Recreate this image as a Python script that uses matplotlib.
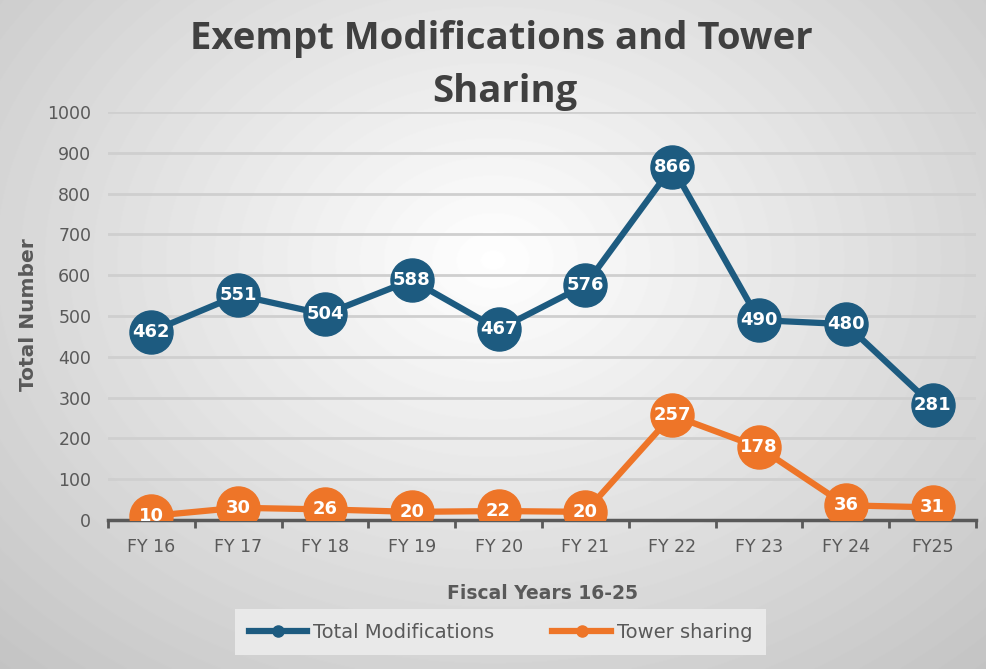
import matplotlib.pyplot as plt
import numpy as np

# data
years = ["FY 16", "FY 17", "FY 18", "FY 19", "FY 20", "FY 21", "FY 22", "FY 23", "FY 24", "FY25"]
total_mods = [462, 551, 504, 588, 467, 576, 866, 490, 480, 281]
tower_sharing = [10, 30, 26, 20, 22, 20, 257, 178, 36, 31]

blue = "#1d5b80"
orange = "#ee7528"
grey_txt = "#595959"

fig = plt.figure(figsize=(9.87, 6.69), dpi=100)

# radial grey background
bg = fig.add_axes([0, 0, 1, 1], zorder=-10)
yy, xx = np.mgrid[0:669, 0:987]
r = np.sqrt(((xx - 493) / 620.0) ** 2 + ((yy - 260) / 480.0) ** 2)
shade = np.clip(1.0 - 0.2 * r, 0, 1)
bg.imshow(shade, cmap="gray", vmin=0, vmax=1, aspect="auto", extent=[0, 1, 0, 1])
bg.axis("off")

ax = fig.add_axes([0.1094, 0.2227, 0.8795, 0.6099])
ax.patch.set_alpha(0)
x = np.arange(len(years))

ax.plot(x, total_mods, color=blue, lw=4.5, marker="o", markersize=31, zorder=3)
ax.plot(x, tower_sharing, color=orange, lw=4.5, marker="o", markersize=31, zorder=3)

for i in range(len(years)):
    ax.text(x[i], total_mods[i], str(total_mods[i]), color="white", fontsize=13,
            fontweight="bold", ha="center", va="center", zorder=4)
    ax.text(x[i], tower_sharing[i], str(tower_sharing[i]), color="white", fontsize=13,
            fontweight="bold", ha="center", va="center", zorder=4)

ax.set_xlim(-0.5, len(years) - 0.5)
ax.set_ylim(0, 1000)
ax.set_yticks(np.arange(0, 1001, 100))
ax.set_xticks(x)
ax.set_xticklabels(years)
ax.set_xticks(np.arange(-0.5, len(years), 1), minor=True)
ax.tick_params(axis="x", which="major", length=0, pad=13, labelsize=12.5, labelcolor=grey_txt)
ax.tick_params(axis="x", which="minor", length=6, width=2, color=grey_txt, direction="out")
ax.tick_params(axis="y", length=0, pad=12, labelsize=12.5, labelcolor=grey_txt)
ax.grid(axis="y", color="#cfcfcf", lw=2)
ax.set_axisbelow(True)
for s in ["top", "right", "left"]:
    ax.spines[s].set_visible(False)
ax.spines["bottom"].set_color(grey_txt)
ax.spines["bottom"].set_linewidth(2.5)
ax.spines["bottom"].set_zorder(2)

fig.text(0.508, 0.942, "Exempt Modifications and Tower", ha="center", va="center",
         fontsize=27.5, fontweight="bold", color="#404040", family="Open Sans")
fig.text(0.511, 0.863, "Sharing", ha="center", va="center",
         fontsize=27.5, fontweight="bold", color="#404040", family="Open Sans")
fig.text(0.029, 0.53, "Total Number", rotation=90, ha="center", va="center",
         fontsize=14.5, fontweight="bold", color=grey_txt)
fig.text(0.55, 0.113, "Fiscal Years 16-25", ha="center", va="center",
         fontsize=13.5, fontweight="bold", color=grey_txt)

leg = fig.legend(["Total Modifications", "Tower sharing"], loc="center",
                 bbox_to_anchor=(0.507, 0.055), ncol=2, fontsize=14,
                 handlelength=3.0, columnspacing=3.0, borderpad=0.7, handletextpad=0.3,
                 facecolor="#e9e9e9", edgecolor="none", framealpha=1, fancybox=False,
                 labelcolor=grey_txt)
for h in leg.legend_handles:
    h.set_markersize(8)

plt.savefig("out.png", dpi=100)
